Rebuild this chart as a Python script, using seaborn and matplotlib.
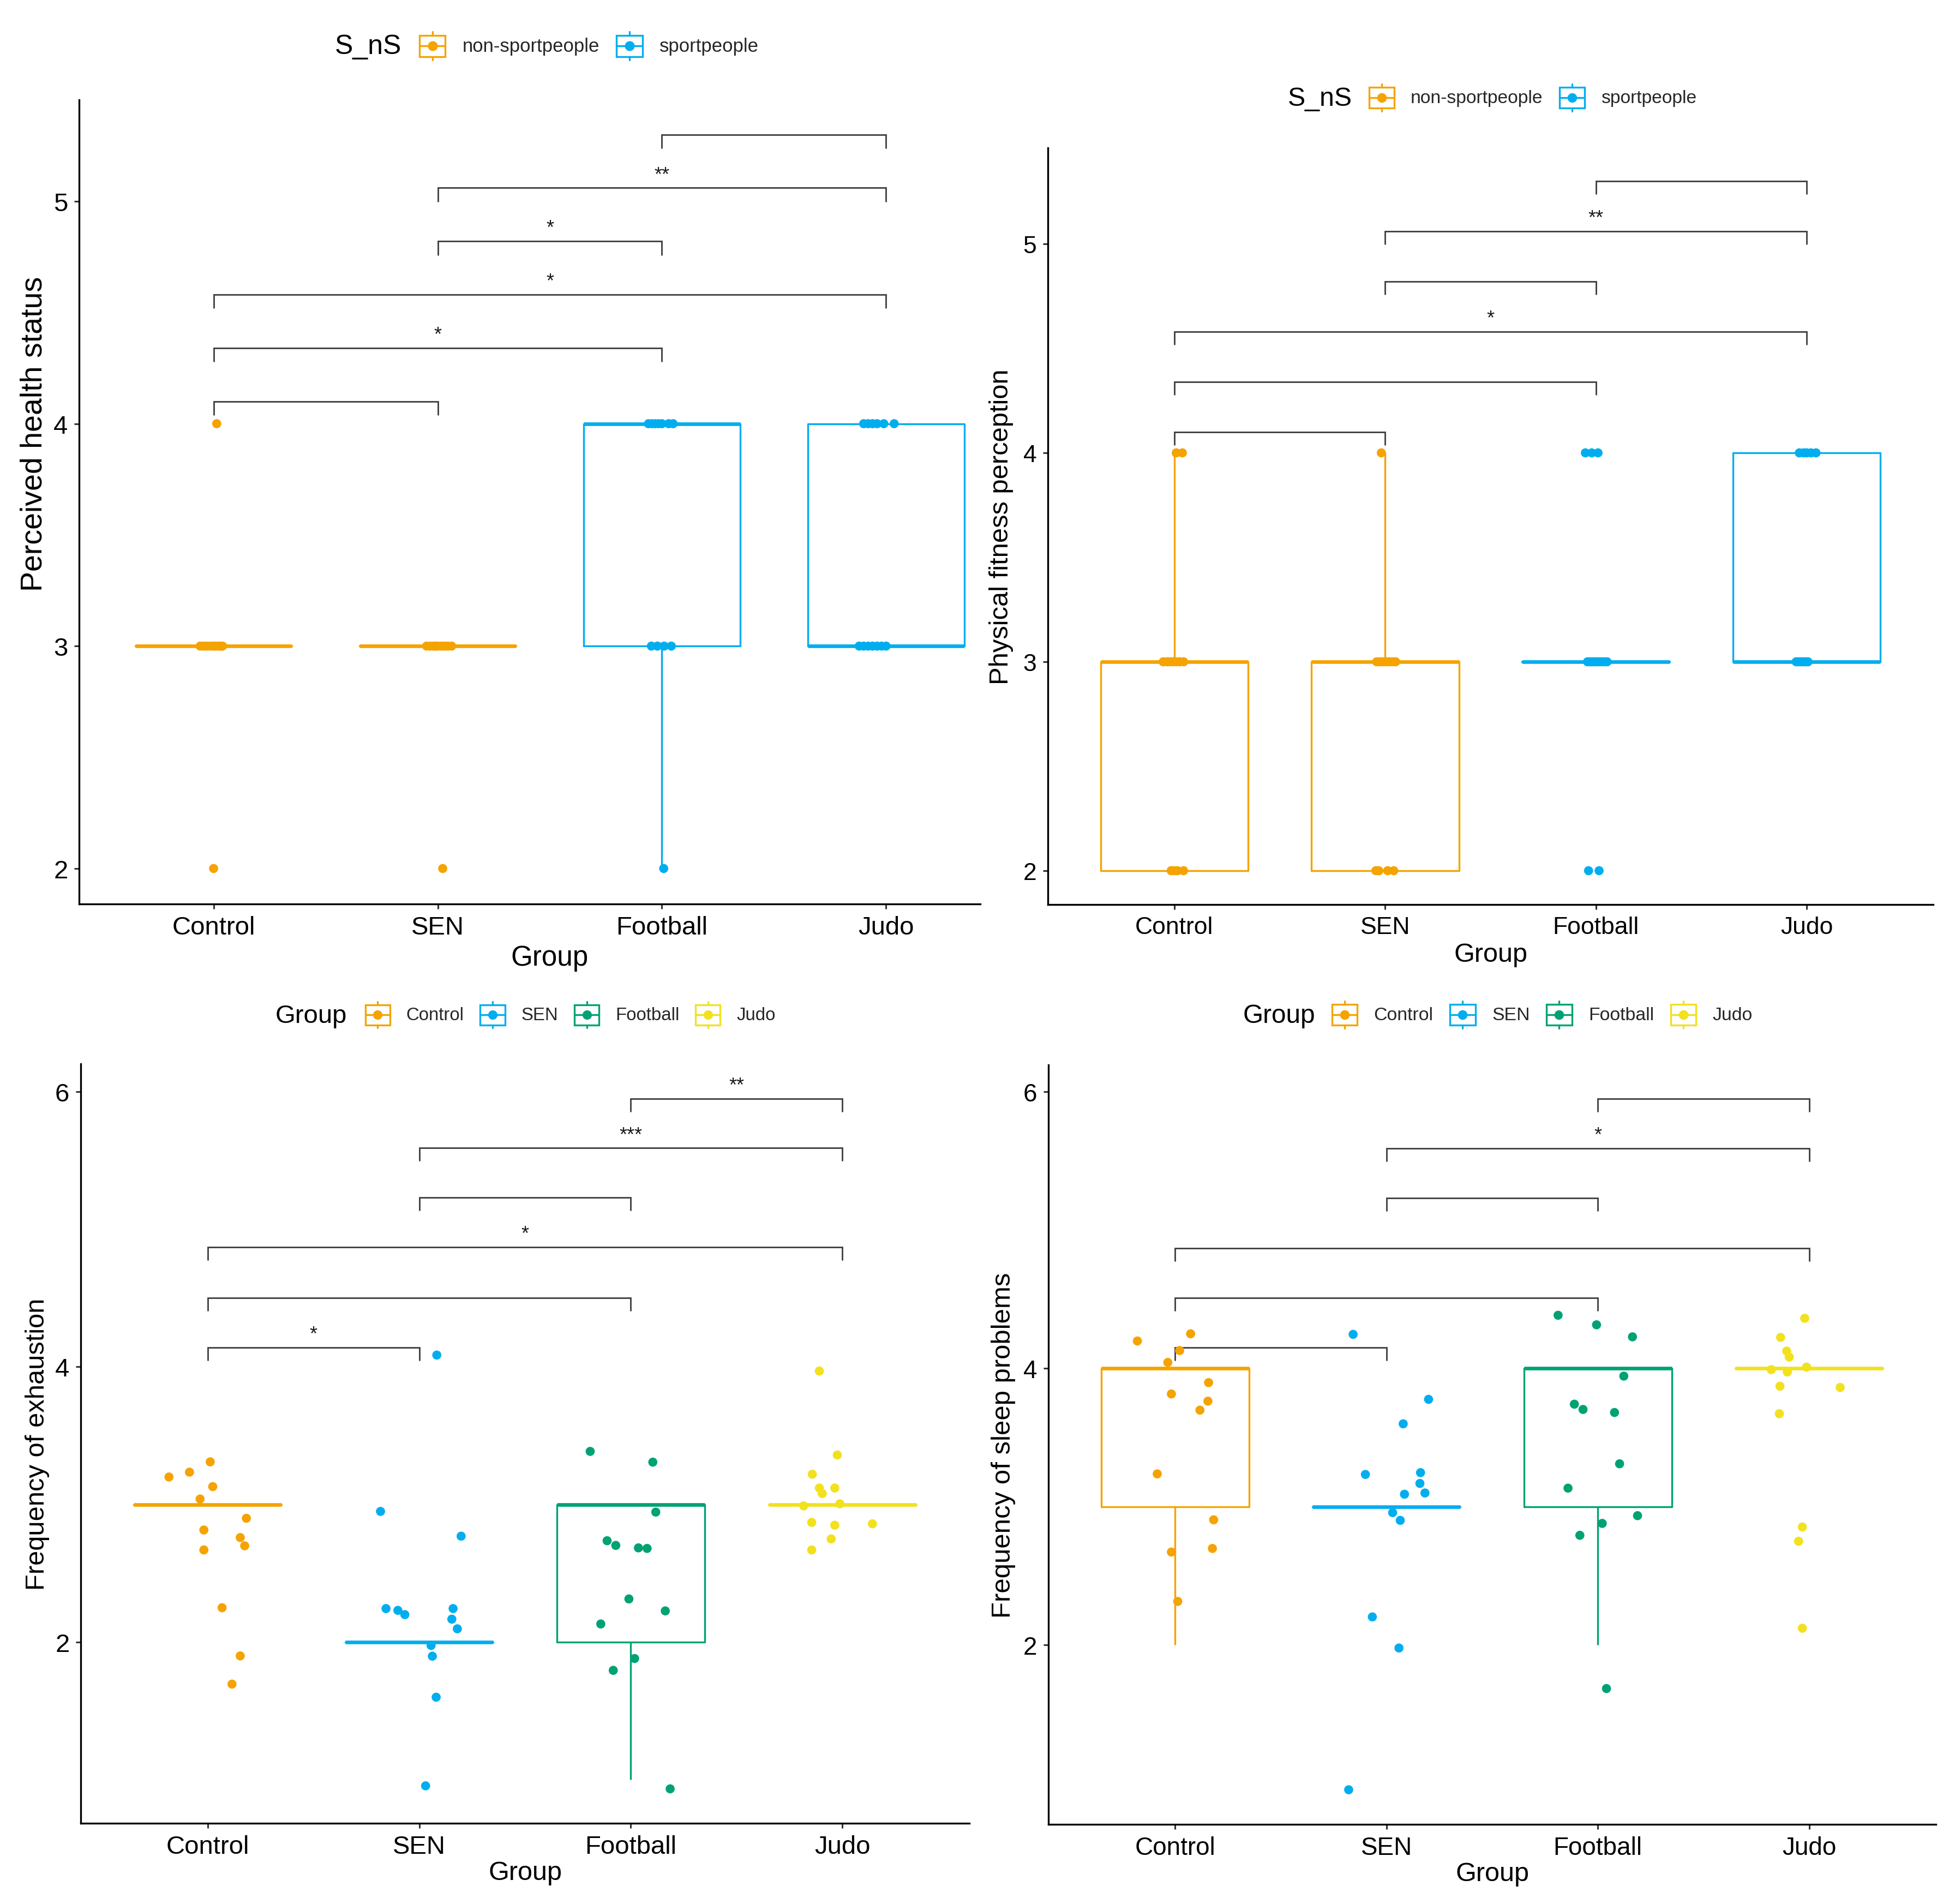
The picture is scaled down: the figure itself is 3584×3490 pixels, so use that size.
import numpy as np
import pandas as pd
import matplotlib
matplotlib.use("Agg")
import matplotlib.pyplot as plt
import seaborn as sns
from matplotlib.legend_handler import HandlerBase
from matplotlib.patches import Patch, Rectangle
from matplotlib.lines import Line2D

# ---------------------------------------------------------------- data
groups = ["Control", "SEN", "Football", "Judo"]
sport_of_group = ["non-sportpeople", "non-sportpeople", "sportpeople", "sportpeople"]
sport_levels = ["non-sportpeople", "sportpeople"]

# Perceived health status: answers per group and horizontal jitter of each dot
health_values = [
    [4, 3, 3, 3, 3, 3, 3, 3, 3, 3, 2],
    [3, 3, 3, 3, 3, 3, 3, 3, 3, 2],
    [4, 4, 4, 4, 4, 4, 4, 3, 3, 3, 3, 2],
    [4, 4, 4, 4, 4, 4, 3, 3, 3, 3, 3, 3, 3],
]
health_jitter = [
    [0.014, -0.06, -0.045, -0.03, -0.015, 0.0, 0.01, 0.025, 0.035, 0.04, 0.0],
    [-0.05, -0.035, -0.02, -0.01, 0.0, 0.015, 0.03, 0.045, 0.062, 0.022],
    [-0.06, -0.045, -0.03, -0.015, 0.0, 0.03, 0.05, -0.047, -0.02, 0.01, 0.042, 0.008],
    [-0.1, -0.08, -0.06, -0.04, -0.01, 0.036, -0.12, -0.1, -0.08, -0.06, -0.04, -0.02, 0.0],
]

# Physical fitness perception
fitness_values = [
    [4, 4, 3, 3, 3, 3, 3, 3, 3, 2, 2, 2, 2],
    [4, 3, 3, 3, 3, 3, 3, 3, 2, 2, 2, 2],
    [4, 4, 4, 3, 3, 3, 3, 3, 3, 3, 3, 3, 2, 2],
    [4, 4, 4, 4, 4, 3, 3, 3, 3, 3, 3, 3],
]
fitness_jitter = [
    [0.009, 0.038, -0.053, -0.035, -0.02, -0.005, 0.01, 0.025, 0.044, -0.015, 0.0, 0.015, 0.044],
    [-0.018, -0.04, -0.025, -0.01, 0.005, 0.02, 0.035, 0.05, -0.044, -0.03, 0.012, 0.041],
    [-0.05, -0.02, 0.01, -0.04, -0.03, -0.02, -0.01, 0.0, 0.012, 0.025, 0.04, 0.053, -0.035, 0.015],
    [-0.035, -0.015, 0.0, 0.02, 0.044, -0.05, -0.04, -0.03, -0.02, -0.01, 0.0, 0.006],
]

# Frequency of exhaustion: jittered dot positions as drawn (answers = nearest integer)
exhaustion_points = [
    [3.20, 3.235, 3.31, 3.13, 3.04, 2.90, 2.815, 2.76, 2.70, 2.67, 2.25, 1.90, 1.695],
    [2.95, 4.086, 2.77, 2.244, 2.231, 2.20, 2.244, 2.167, 2.097, 1.976, 1.898, 1.60, 0.956],
    [3.386, 3.308, 2.945, 2.737, 2.703, 2.685, 2.681, 2.314, 2.227, 2.132, 1.881, 1.795, 0.934],
    [3.97, 3.36, 3.22, 3.12, 3.12, 3.08, 2.99, 3.005, 2.87, 2.85, 2.86, 2.75, 2.67],
]
exhaustion_jitter = [
    [-0.183, -0.086, 0.012, 0.024, -0.036, 0.183, -0.018, 0.154, 0.175, -0.018, 0.068, 0.154, 0.115],
    [-0.183, 0.083, 0.198, -0.157, -0.101, -0.068, 0.160, 0.154, 0.180, 0.056, 0.062, 0.080, 0.030],
    [-0.192, 0.104, 0.118, -0.112, -0.071, 0.036, 0.077, -0.009, 0.163, -0.142, 0.018, -0.083, 0.186],
    [-0.109, -0.024, -0.142, -0.109, -0.036, -0.095, -0.183, -0.012, -0.145, -0.036, 0.142, -0.053, -0.145],
]

# Frequency of sleep problems
sleep_points = [
    [4.198, 4.25, 4.129, 4.043, 3.815, 3.897, 3.763, 3.698, 3.237, 2.905, 2.672, 2.698, 2.315],
    [4.246, 3.776, 3.599, 3.233, 3.246, 3.168, 3.09, 3.099, 2.957, 2.901, 2.203, 1.978, 0.953],
    [4.384, 4.315, 4.228, 3.944, 3.741, 3.703, 3.681, 3.31, 3.134, 2.935, 2.879, 2.793, 1.685],
    [4.362, 4.224, 4.125, 4.082, 3.991, 4.009, 3.974, 3.871, 3.862, 3.672, 2.853, 2.75, 2.121],
]
sleep_jitter = [
    [-0.179, 0.073, 0.021, -0.035, -0.018, 0.158, 0.155, 0.117, -0.085, 0.182, -0.018, 0.176, 0.012],
    [-0.158, 0.199, 0.079, -0.100, 0.161, 0.158, 0.085, 0.182, 0.029, 0.065, -0.067, 0.059, -0.179],
    [-0.188, -0.006, 0.164, 0.123, -0.111, -0.070, 0.079, 0.103, -0.141, 0.188, 0.021, -0.085, 0.041],
    [-0.021, -0.135, -0.106, -0.094, -0.179, -0.012, -0.103, -0.138, 0.147, -0.141, -0.032, -0.050, -0.032],
]

# pairwise comparisons (ggsignif style)
comparisons = [("Control", "SEN"), ("Control", "Football"), ("Control", "Judo"),
               ("SEN", "Football"), ("SEN", "Judo"), ("Football", "Judo")]
health_bracket_y = [4.10, 4.34, 4.58, 4.82, 5.06, 5.30]
health_signif = ["", "*", "*", "*", "**", ""]
fitness_bracket_y = [4.10, 4.34, 4.58, 4.82, 5.06, 5.30]
fitness_signif = ["", "", "*", "", "**", ""]
exhaustion_bracket_y = [4.14, 4.50, 4.87, 5.23, 5.59, 5.95]
exhaustion_signif = ["*", "", "*", "", "***", "**"]
sleep_bracket_y = [4.15, 4.51, 4.87, 5.23, 5.59, 5.95]
sleep_signif = ["", "", "", "", "*", ""]

# ---------------------------------------------------------------- style
ORANGE, BLUE, GREEN, YELLOW = "#F5A300", "#00AEEF", "#00A274", "#F2E11E"
sport_palette = {"non-sportpeople": ORANGE, "sportpeople": BLUE}
group_palette = {"Control": ORANGE, "SEN": BLUE, "Football": GREEN, "Judo": YELLOW}

sns.set_theme(style="ticks")
plt.rcParams["font.family"] = ["Liberation Sans", "DejaVu Sans"]
plt.rcParams["axes.linewidth"] = 1.2

W, H, DPI = 3584, 3491, 200
fig = plt.figure(figsize=(W / DPI, H / DPI), dpi=DPI)
fig.patch.set_facecolor("white")


def px_rect(left, right, top, bottom):
    return [left / W, 1 - bottom / H, (right - left) / W, (bottom - top) / H]


def draw_panel(rect, box_values, point_values, jitter, hue_name, hue_of_group, palette,
               ylabel, ylim, xlim, yticks, bracket_y, signif, fs):
    ax = fig.add_axes(rect)
    counts = [len(v) for v in box_values]
    box_cols = {"Group": np.repeat(groups, counts), "score": np.concatenate(box_values)}
    pt_cols = {"pos": np.concatenate([np.full(len(j), groups.index(g)) + np.asarray(j)
                                      for g, j in zip(groups, jitter)]),
               "score": np.concatenate(point_values)}
    if hue_name != "Group":
        box_cols[hue_name] = np.repeat(hue_of_group, counts)
    pt_cols[hue_name] = np.repeat(hue_of_group, counts)
    box_df = pd.DataFrame(box_cols)
    pt_df = pd.DataFrame(pt_cols)

    sns.boxplot(data=box_df, x="Group", y="score", hue=hue_name, order=groups,
                hue_order=list(palette), palette=palette, fill=False, dodge=False,
                width=0.7, linewidth=1.2, whis=1.5, showfliers=False, showcaps=False,
                medianprops={"linewidth": 2.4}, legend=False, ax=ax)
    sns.scatterplot(data=pt_df, x="pos", y="score", hue=hue_name, hue_order=list(palette),
                    palette=palette, s=36, linewidth=0, legend=False, ax=ax, zorder=4)

    span = ylim[1] - ylim[0]
    tip = 0.0165 * span
    for (g1, g2), yb, lab in zip(comparisons, bracket_y, signif):
        i, j = groups.index(g1), groups.index(g2)
        ax.plot([i, i, j, j], [yb - tip, yb, yb, yb - tip], color="#3c3c3c", lw=1.0,
                solid_joinstyle="miter", zorder=2)
        if lab:
            ax.annotate(lab, xy=((i + j) / 2, yb), xytext=(0, 5), textcoords="offset points",
                        ha="center", va="baseline", fontsize=13, color="#1a1a1a")

    ax.set_xlim(*xlim)
    ax.set_ylim(*ylim)
    ax.set_yticks(yticks)
    ax.set_xticks(range(len(groups)))
    ax.set_xticklabels(groups)
    ax.tick_params(axis="both", direction="out", length=3.4, width=1.1, pad=4,
                   labelsize=fs["tick"], color="#333333", labelcolor="black")
    for s in ["top", "right"]:
        ax.spines[s].set_visible(False)
    for s in ["left", "bottom"]:
        ax.spines[s].set_color("black")
        ax.spines[s].set_linewidth(1.2)
    ax.grid(False)
    ax.set_facecolor("white")
    ax.set_xlabel("Group", fontsize=fs["xlabel"], va="center", color="black")
    ax.set_ylabel(ylabel, fontsize=fs["ylabel"], va="center", color="black")
    ax.xaxis.set_label_coords((1.5 - xlim[0]) / (xlim[1] - xlim[0]), fs["xlab_y"])
    ax.yaxis.set_label_coords(fs["ylab_x"], fs.get("ylab_y", 0.5))
    return ax


class BoxKey(Patch):
    pass


class BoxKeyHandler(HandlerBase):
    def create_artists(self, legend, orig_handle, xdescent, ydescent, width, height,
                       fontsize, trans):
        c = orig_handle.get_edgecolor()
        x0 = -xdescent
        yc = 0.27 * fontsize
        hb = 0.56 * fontsize
        hw = 0.74 * fontsize
        lw = 1.2
        xm = x0 + width / 2
        box = Rectangle((x0 + 0.5 * lw, yc - hb), width - lw, 2 * hb, facecolor="white",
                        edgecolor=c, lw=lw, transform=trans)
        wl = Line2D([xm, xm], [yc - hw, yc - hb], color=c, lw=lw, transform=trans)
        wu = Line2D([xm, xm], [yc + hb, yc + hw], color=c, lw=lw, transform=trans)
        med = Line2D([x0 + 0.5 * lw, x0 + width - 0.5 * lw], [yc, yc], color=c, lw=lw,
                     transform=trans)
        dot = Line2D([xm], [yc], marker="o", markersize=0.52 * fontsize, color=c,
                     markeredgewidth=0, linestyle="none", transform=trans)
        return [box, wl, wu, med, dot]


def add_legend(title, labels, palette, key_x, y, title_right, fs_label, fs_title):
    handles = [BoxKey(edgecolor=palette[l]) for l in labels]
    fig.legend(handles, labels, loc="center left",
               bbox_to_anchor=(key_x / W, 1 - y / H), ncol=len(labels),
               frameon=False, borderpad=0, borderaxespad=0, handlelength=1.47,
               handleheight=1.45, handletextpad=0.85, columnspacing=0.85,
               fontsize=fs_label, handler_map={BoxKey: BoxKeyHandler()})
    fig.text(title_right / W, 1 - (y + 16) / H, title, ha="right", va="baseline",
             fontsize=fs_title, color="black")


# ---------------------------------------------------------------- panels
draw_panel(px_rect(145, 1797, 184, 1658), health_values, health_values, health_jitter,
           "S_nS", sport_of_group, sport_palette, "Perceived health status",
           (1.8405, 5.456), (-0.6, 3.42), [2, 3, 4, 5], health_bracket_y, health_signif,
           {"tick": 17, "xlabel": 18.4, "ylabel": 20, "xlab_y": -0.0665, "ylab_x": -0.050,
            "ylab_y": 0.585})

draw_panel(px_rect(1921, 3544, 272, 1659), fitness_values, fitness_values, fitness_jitter,
           "S_nS", sport_of_group, sport_palette, "Physical fitness perception",
           (1.838, 5.46), (-0.6, 3.6), [2, 3, 4, 5], fitness_bracket_y, fitness_signif,
           {"tick": 16, "xlabel": 17.5, "ylabel": 17.6, "xlab_y": -0.066, "ylab_x": -0.0524})

exhaustion_answers = [np.rint(p) for p in exhaustion_points]
draw_panel(px_rect(148, 1777, 1951, 3343), exhaustion_answers, exhaustion_points,
           exhaustion_jitter, "Group", groups, group_palette, "Frequency of exhaustion",
           (0.684, 6.202), (-0.6, 3.6), [2, 4, 6], exhaustion_bracket_y, exhaustion_signif,
           {"tick": 17, "xlabel": 17.5, "ylabel": 17.6, "xlab_y": -0.065, "ylab_x": -0.0485})

sleep_answers = [np.rint(p) for p in sleep_points]
draw_panel(px_rect(1922, 3549, 1953, 3345), sleep_answers, sleep_points, sleep_jitter,
           "Group", groups, group_palette, "Frequency of sleep problems",
           (0.703, 6.194), (-0.6, 3.6), [2, 4, 6], sleep_bracket_y, sleep_signif,
           {"tick": 16.5, "xlabel": 17.5, "ylabel": 17.7, "xlab_y": -0.065, "ylab_x": -0.0504})

# ---------------------------------------------------------------- legends
add_legend("S_nS", sport_levels, sport_palette, 767, 83, 736, 12.5, 18)
add_legend("S_nS", sport_levels, sport_palette, 2508, 178, 2479, 12.1, 17.4)
add_legend("Group", groups, group_palette, 668, 1859, 636, 11.9, 17)
add_legend("Group", groups, group_palette, 2440, 1859, 2411, 12.2, 17.2)

fig.savefig("out.png", dpi=DPI, facecolor="white")
